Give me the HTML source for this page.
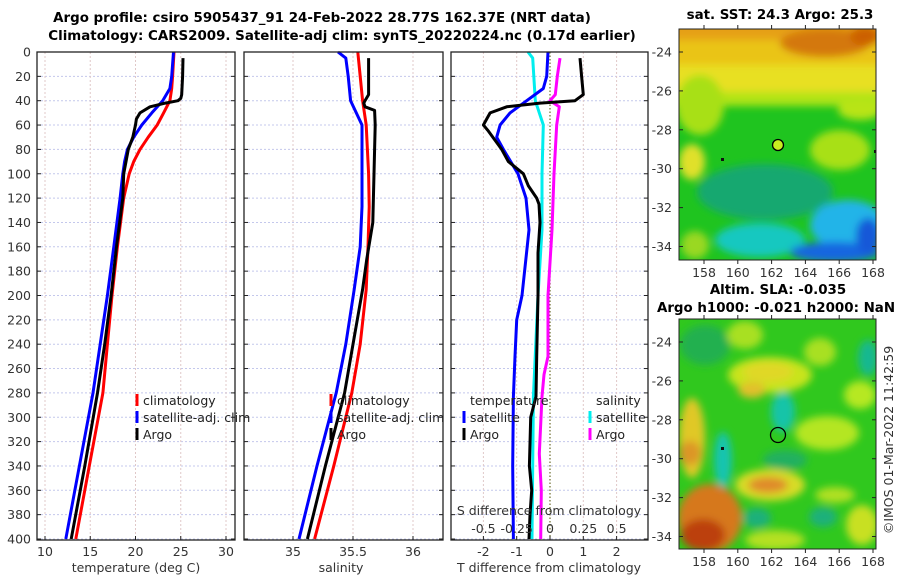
<!DOCTYPE html>
<html><head><meta charset="utf-8">
<style>
body{margin:0;background:#fff;}
svg{display:block;font-family:"DejaVu Sans","Liberation Sans",sans-serif;}
.tk{font-size:12.5px;fill:#333;}
.ttl{font-size:13.4px;font-weight:bold;fill:#000;}
.lg{font-size:12.5px;fill:#222;}
</style></head>
<body>
<svg id="chart" width="900" height="580" viewBox="0 0 900 580">
<defs>
<filter id="bl" x="-50%" y="-50%" width="200%" height="200%"><feGaussianBlur stdDeviation="4"/></filter>
<clipPath id="c1"><rect x="679" y="29" width="197" height="231"/></clipPath>
<clipPath id="c2"><rect x="679" y="319" width="197" height="230"/></clipPath>
</defs>
<text class="ttl" x="322" y="22" text-anchor="middle">Argo profile: csiro 5905437_91 24-Feb-2022 28.77S 162.37E (NRT data)</text>
<text class="ttl" x="342" y="40" text-anchor="middle">Climatology: CARS2009. Satellite-adj clim: synTS_20220224.nc (0.17d earlier)</text>
<g id="panels"></g>

<!-- map 1 -->
<text class="ttl" x="780" y="19" text-anchor="middle">sat. SST: 24.3 Argo: 25.3</text>
<g clip-path="url(#c1)">
<rect x="679" y="29" width="197" height="231" fill="#1fc41f"/>
<g filter="url(#bl)">
<rect x="660" y="10" width="240" height="88" fill="#e8e020"/>
<rect x="660" y="10" width="240" height="55" fill="#eac418"/>
<rect x="660" y="10" width="240" height="30" fill="#e6a014"/>
<ellipse cx="825" cy="43" rx="45" ry="14" fill="#d47808"/>
<ellipse cx="865" cy="36" rx="15" ry="10" fill="#cc6004"/>
<rect x="660" y="92" width="240" height="14" fill="#b0e414"/>
<ellipse cx="700" cy="105" rx="24" ry="30" fill="#a8e014"/>
<ellipse cx="692" cy="162" rx="13" ry="18" fill="#e0e02a"/>
<ellipse cx="840" cy="150" rx="30" ry="20" fill="#a8e014"/>
<ellipse cx="860" cy="110" rx="22" ry="10" fill="#b8e414"/>
<ellipse cx="765" cy="192" rx="68" ry="28" fill="#12a870"/>
<ellipse cx="760" cy="240" rx="45" ry="17" fill="#14c8c0"/>
<ellipse cx="848" cy="225" rx="38" ry="25" fill="#20b4e8"/>
<ellipse cx="835" cy="252" rx="45" ry="10" fill="#1466e0"/>
<ellipse cx="868" cy="236" rx="12" ry="18" fill="#1458d8"/>
<ellipse cx="695" cy="245" rx="14" ry="14" fill="#9ad820"/>
</g>
</g>
<rect x="679" y="29" width="197" height="231" fill="none" stroke="#222" stroke-width="1"/>
<circle cx="778" cy="145" r="5.5" fill="#c8ec20" stroke="#000" stroke-width="1.3"/>
<rect x="721" y="158" width="3" height="3" fill="#111"/>
<rect x="874" y="150" width="2" height="3" fill="#111"/>

<!-- map 2 -->
<text class="ttl" x="778" y="294" text-anchor="middle">Altim. SLA: -0.035</text>
<text class="ttl" x="776" y="312" text-anchor="middle">Argo h1000: -0.021 h2000: NaN</text>
<g clip-path="url(#c2)">
<rect x="679" y="319" width="197" height="230" fill="#30c81e"/>
<g filter="url(#bl)">
<ellipse cx="705" cy="345" rx="25" ry="20" fill="#20b050"/>
<ellipse cx="745" cy="335" rx="18" ry="14" fill="#a8e020"/>
<ellipse cx="820" cy="352" rx="16" ry="14" fill="#a8e020"/>
<ellipse cx="770" cy="375" rx="42" ry="18" fill="#c8e41c"/>
<ellipse cx="768" cy="372" rx="25" ry="10" fill="#e0d828"/>
<ellipse cx="752" cy="390" rx="14" ry="8" fill="#e2c02a"/>
<ellipse cx="868" cy="358" rx="10" ry="18" fill="#18b890"/>
<ellipse cx="692" cy="438" rx="13" ry="40" fill="#e0c828"/>
<ellipse cx="690" cy="453" rx="11" ry="12" fill="#dc9626"/>
<ellipse cx="723" cy="460" rx="9" ry="28" fill="#14c4b0"/>
<ellipse cx="783" cy="412" rx="12" ry="20" fill="#14c4a8"/>
<ellipse cx="785" cy="460" rx="22" ry="10" fill="#22b060"/>
<ellipse cx="827" cy="433" rx="32" ry="17" fill="#b4e622"/>
<ellipse cx="860" cy="395" rx="16" ry="14" fill="#b6e820"/>
<ellipse cx="770" cy="485" rx="35" ry="16" fill="#d8dc28"/>
<ellipse cx="768" cy="485" rx="20" ry="8" fill="#e08a2a"/>
<ellipse cx="835" cy="495" rx="20" ry="8" fill="#b0e024"/>
<ellipse cx="710" cy="518" rx="32" ry="34" fill="#d6781a"/>
<ellipse cx="703" cy="535" rx="22" ry="16" fill="#bc4008"/>
<ellipse cx="775" cy="540" rx="30" ry="10" fill="#b4e020"/>
<ellipse cx="757" cy="518" rx="14" ry="10" fill="#1cb07a"/>
<ellipse cx="823" cy="517" rx="14" ry="10" fill="#1cb07a"/>
<ellipse cx="862" cy="525" rx="16" ry="20" fill="#c8e020"/>
</g>
</g>
<rect x="679" y="319" width="197" height="230" fill="none" stroke="#222" stroke-width="1"/>
<circle cx="778" cy="435" r="7.5" fill="none" stroke="#000" stroke-width="1.3"/>
<rect x="721" y="447" width="3" height="3" fill="#111"/>
<text class="tk" transform="translate(893,440) rotate(-90)" text-anchor="middle">©IMOS 01-Mar-2022 11:42:59</text>
<g id="mapticks"></g>
</svg>
<script>
// ---- data ----
const tempDepth = [0,20,30,40,50,60,70,80,90,100,120,160,200,240,280,340,400];
const tempClim  = [24.25,24.1,24.0,23.8,23.1,22.4,21.4,20.5,19.8,19.3,18.7,18.0,17.4,16.9,16.4,14.9,13.4];
const tempSat   = [24.2,24.0,23.8,23.0,21.8,20.7,19.8,19.1,18.8,18.6,18.3,17.6,16.9,16.1,15.3,13.8,12.3];
const argoTDepth= [5,20,35,38,40,42,45,50,55,60,70,80,100,120,160,200,240,280,340,400];
const argoT     = [25.25,25.2,25.1,25.0,24.7,23.3,21.6,20.5,20.1,20.0,19.7,19.2,18.7,18.6,17.9,17.3,16.6,15.8,14.4,12.9];

const salDepth  = [0,5,20,40,60,80,100,127,160,195,240,280,340,400];
const salClim   = [35.54,35.545,35.56,35.58,35.61,35.62,35.63,35.635,35.625,35.61,35.56,35.49,35.34,35.18];
const salSat    = [35.375,35.44,35.46,35.48,35.575,35.575,35.575,35.575,35.56,35.51,35.44,35.36,35.2,35.05];
const argoSDepth= [5,20,35,40,42,45,48,60,80,100,120,140,170,195,240,280,340,400];
const argoS     = [35.63,35.63,35.63,35.6,35.59,35.6,35.68,35.685,35.68,35.675,35.67,35.665,35.615,35.58,35.5,35.43,35.27,35.12];

const dDepthSat = [0,20,30,40,50,60,70,80,100,120,146,200,220,250,283,340,400];
const dTSat     = [-0.06,-0.1,-0.2,-0.7,-1.2,-1.5,-1.6,-1.4,-0.96,-0.72,-0.63,-0.84,-1.0,-1.05,-1.1,-1.12,-1.1];
const dDepthArgo= [5,20,35,40,42,45,50,55,60,65,80,90,100,110,120,125,140,165,200,250,283,300,340,360,380,400];
const dTArgo    = [0.9,0.95,1.0,0.75,-0.3,-1.3,-1.8,-1.9,-2.0,-1.85,-1.45,-1.25,-0.8,-0.65,-0.4,-0.33,-0.3,-0.36,-0.36,-0.4,-0.42,-0.58,-0.62,-0.55,-0.6,-0.63];
const dSDepthSat= [0,5,40,60,100,146,200,283,340,400];
const dSSat     = [-0.165,-0.13,-0.11,-0.05,-0.06,-0.06,-0.09,-0.125,-0.13,-0.135];
const dSDepthArgo=[5,20,35,40,45,60,100,146,200,250,265,283,330,360,400];
const dSArgo    = [0.075,0.055,0.04,0.0,0.07,0.05,0.03,0.015,-0.015,-0.015,-0.045,-0.06,-0.08,-0.065,-0.07];

const depthTicks = [0,20,40,60,80,100,120,140,160,180,200,220,240,260,280,300,320,340,360,380,400];
const tempTicks = [10,15,20,25,30];
const salTicks = [35,35.5,36];
const salTickLabels = ["35","35.5","36"];
const dTTicks = [-2,-1,0,1,2];
const dSTicks = [-0.5,-0.25,0,0.25,0.5];
const dSTickLabels = ["-0.5","-0.25","0","0.25","0.5"];
const lonTicks = [158,160,162,164,166,168];
const latTicks = [-24,-26,-28,-30,-32,-34];

// ---- axes ----
const NS="http://www.w3.org/2000/svg";
const yD = d => 52 + d*1.2175;
const xT = t => 45 + (t-10)*9.05;
const xS = s => 293 + (s-35)*120;
const xdT = v => 550 + v*33.3;
const xdS = v => 550 + v*133.2;
const lonX = l => 704 + (l-158)*16.9;
const latY1 = l => 52 + (-24-l)*19.45;
const latY2 = l => 342 + (-24-l)*19.45;

const g = document.getElementById('panels');
function el(tag, attrs, parent){const e=document.createElementNS(NS,tag);for(const k in attrs)e.setAttribute(k,attrs[k]);(parent||g).appendChild(e);return e;}
function txt(x,y,s,cls,anchor,parent){const e=el('text',{x:x,y:y,class:cls,'text-anchor':anchor||'middle'},parent);e.textContent=s;return e;}

const panels=[{x0:37,x1:235},{x0:244,x1:443},{x0:451,x1:648}];
panels.forEach((p,i)=>{
  const r=el('rect',{x:p.x0,y:52,width:p.x1-p.x0,height:488,fill:'#fff'});
  
  
  depthTicks.forEach(d=>{
    el('line',{x1:p.x0,x2:p.x1,y1:yD(d),y2:yD(d),stroke:'#c4c8ec','stroke-width':1,'stroke-dasharray':'2,2'});
  });
});
tempTicks.forEach(t=>el('line',{x1:xT(t),x2:xT(t),y1:52,y2:540,stroke:'#e0c8c8','stroke-dasharray':'2,2'}));
salTicks.forEach(t=>el('line',{x1:xS(t),x2:xS(t),y1:52,y2:540,stroke:'#e0c8c8','stroke-dasharray':'2,2'}));
dTTicks.forEach(t=>{ if(t!==0) el('line',{x1:xdT(t),x2:xdT(t),y1:52,y2:540,stroke:'#e0c8c8','stroke-dasharray':'2,2'});});
el('line',{x1:xdT(0),x2:xdT(0),y1:52,y2:540,stroke:'#6b6b2a','stroke-width':1.2,'stroke-dasharray':'1.5,2'});

function line(xs,ds,fx,color,name,w){
  const pts=xs.map((v,i)=>fx(v).toFixed(1)+','+yD(ds[i]).toFixed(1)).join(' ');
  const e=el('polyline',{points:pts,fill:'none',stroke:color,'stroke-width':w||3,'stroke-linejoin':'round'});
  
  
}
line(tempClim,tempDepth,xT,'#ff0000','temp-climatology-line');
line(tempSat,tempDepth,xT,'#0000ff','temp-satellite-line');
line(argoT,argoTDepth,xT,'#000','temp-argo-line');
line(salClim,salDepth,xS,'#ff0000','sal-climatology-line');
line(salSat,salDepth,xS,'#0000ff','sal-satellite-line');
line(argoS,argoSDepth,xS,'#000','sal-argo-line');
line(dSSat,dSDepthSat,xdS,'#00eeee','sdiff-satellite-line');
line(dSArgo,dSDepthArgo,xdS,'#ff00ff','sdiff-argo-line');
line(dTSat,dDepthSat,xdT,'#0000ff','tdiff-satellite-line');
line(dTArgo,dDepthArgo,xdT,'#000','tdiff-argo-line');

panels.forEach(p=>{
  el('rect',{x:p.x0,y:52,width:p.x1-p.x0,height:488,fill:'none',stroke:'#222','stroke-width':1.3});
  depthTicks.forEach(d=>{
    el('line',{x1:p.x0,x2:p.x0+4,y1:yD(d),y2:yD(d),stroke:'#222'});
    el('line',{x1:p.x1-4,x2:p.x1,y1:yD(d),y2:yD(d),stroke:'#222'});
  });
});
depthTicks.forEach(d=>{
  const t=txt(31,yD(d)+4.5,String(d),'tk','end');
  
  
});
tempTicks.forEach(t=>{el('line',{x1:xT(t),x2:xT(t),y1:536,y2:540,stroke:'#222'});txt(xT(t),556,String(t),'tk');});
salTicks.forEach((t,i)=>{el('line',{x1:xS(t),x2:xS(t),y1:536,y2:540,stroke:'#222'});txt(xS(t),556,salTickLabels[i],'tk');});
dTTicks.forEach(t=>{el('line',{x1:xdT(t),x2:xdT(t),y1:536,y2:540,stroke:'#222'});txt(xdT(t),556,String(t),'tk');});
dSTicks.forEach((t,i)=>txt(xdS(t),533,dSTickLabels[i],'tk'));
const xl1=txt(136,572,'temperature (deg C)','tk');
const xl2=txt(341,572,'salinity','tk');
const xl3=txt(549,572,'T difference from climatology','tk');
const xl4=txt(549,515,'S difference from climatology','tk');

function leg(x,y,color,label,name){
  const m=el('rect',{x:x-1.5,y:y-11,width:3,height:12,fill:color});
  
  
  const t=txt(x+6,y,label,'lg','start');
  
  
}
leg(137,405,'#ff0000','climatology','legend-climatology');
leg(137,422,'#0000ff','satellite-adj. clim','legend-satellite');
leg(137,439,'#000','Argo','legend-argo');
leg(331,405,'#ff0000','climatology','legend-sal-climatology');
leg(331,422,'#0000ff','satellite-adj. clim','legend-sal-satellite');
leg(331,439,'#000','Argo','legend-sal-argo');
txt(470,405,'temperature','lg','start');
txt(596,405,'salinity','lg','start');
leg(464,422,'#0000ff','satellite','legend-tdiff-satellite');
leg(464,439,'#000','Argo','legend-tdiff-argo');
leg(590,422,'#00eeee','satellite','legend-sdiff-satellite');
leg(590,439,'#ff00ff','Argo','legend-sdiff-argo');

// map ticks
const mg=document.getElementById('mapticks');
[[latY1,29,260],[latY2,319,549]].forEach(([fy,top,bot],k)=>{
  latTicks.forEach(l=>{
    el('line',{x1:679,x2:683,y1:fy(l),y2:fy(l),stroke:'#222'},mg);
    el('line',{x1:872,x2:876,y1:fy(l),y2:fy(l),stroke:'#222'},mg);
    txt(672,fy(l)+4.5,String(l),'tk','end',mg);
  });
  lonTicks.forEach(l=>{
    el('line',{x1:lonX(l),x2:lonX(l),y1:bot,y2:bot+4,stroke:'#222'},mg);
    el('line',{x1:lonX(l),x2:lonX(l),y1:top-4,y2:top,stroke:'#222'},mg);
    txt(lonX(l),bot+17,String(l),'tk','middle',mg);
  });
});
</script>
</body></html>
